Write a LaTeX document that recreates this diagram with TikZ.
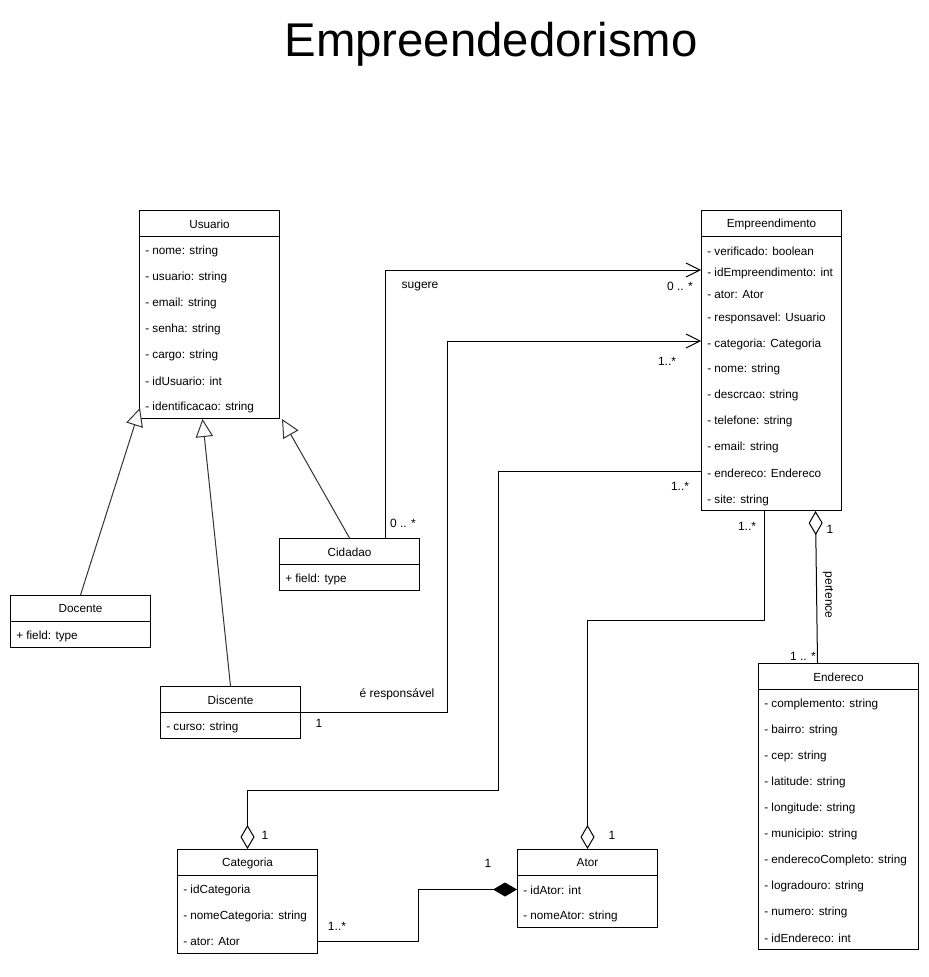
\documentclass[tikz,border=0pt]{standalone}
\usepackage{fontspec}
\setmainfont{Liberation Sans}
\usetikzlibrary{arrows.meta,calc}
\tikzset{
  classbox/.style={draw, line width=0.75pt, anchor=north west, inner sep=0pt},
  head/.style={inner sep=0pt, font=\fontsize{8.8}{11}\selectfont},
  attr/.style={anchor=west, inner sep=0pt, font=\fontsize{8.8}{11}\selectfont},
  lbl/.style={inner sep=0pt, font=\fontsize{9}{11}\selectfont},
  gen/.style={line width=0.75pt, draw=black!80, -{Triangle[open,length=13.5pt,width=13pt,fill=white]}},
  agg/.style={line width=0.75pt, -{Diamond[open,length=18pt,width=10.5pt,fill=white]}},
  comp/.style={line width=0.75pt, -{Diamond[length=18pt,width=10.5pt]}},
  assoc/.style={line width=0.75pt, -{Straight Barb[length=10.5pt,width=10.5pt]}}
}
\begin{document}
\begin{tikzpicture}[x=0.75pt,y=-0.75pt]
\useasboundingbox (0,0) rectangle (928,977);
\fill[white] (0,0) rectangle (928,977);
\node[anchor=base, inner sep=0pt, font=\fontsize{35.5}{42}\selectfont] (title) at (491,57) {Empreendedorismo};
% classes
\node[classbox, minimum width=140*0.75pt, minimum height=208*0.75pt] (usuario) at (139,210) {};
\node[head] (usuario-t) at ($(usuario.north)+(0,14)$) {Usuario};
\draw[line width=0.75pt] ($(usuario.north west)+(0,26)$) -- ($(usuario.north east)+(0,26)$);
\foreach \a [count=\i] in {- nome: string, - usuario: string, - email: string, - senha: string, - cargo: string, - idUsuario: int, - identificacao: string}
  \node[attr] (usuario-\i) at ($(usuario.north west)+(6,15+26*\i)$) {\a};
\node[classbox, minimum width=140*0.75pt, minimum height=300*0.75pt] (empreend) at (701,210) {};
\node[head] (empreend-t) at ($(empreend.north)+(0,14)$) {Empreendimento};
\draw[line width=0.75pt] ($(empreend.north west)+(0,26)$) -- ($(empreend.north east)+(0,26)$);
\foreach \a/\y [count=\i] in {- verificado: boolean/41, - idEmpreendimento: int/63, - ator: Ator/85, - responsavel: Usuario/108, - categoria: Categoria/134, - nome: string/159, - descrcao: string/185, - telefone: string/211, - email: string/237, - endereco: Endereco/263, - site: string/290}
  \node[attr] (empreend-\i) at ($(empreend.north west)+(6,\y)$) {\a};
\node[classbox, minimum width=140*0.75pt, minimum height=52*0.75pt] (cidadao) at (279,538) {};
\node[head] (cidadao-t) at ($(cidadao.north)+(0,14)$) {Cidadao};
\draw[line width=0.75pt] ($(cidadao.north west)+(0,26)$) -- ($(cidadao.north east)+(0,26)$);
\node[attr] (cidadao-1) at ($(cidadao.north west)+(6,41)$) {+ field: type};
\node[classbox, minimum width=140*0.75pt, minimum height=52*0.75pt] (docente) at (10,595) {};
\node[head] (docente-t) at ($(docente.north)+(0,14)$) {Docente};
\draw[line width=0.75pt] ($(docente.north west)+(0,26)$) -- ($(docente.north east)+(0,26)$);
\node[attr] (docente-1) at ($(docente.north west)+(6,41)$) {+ field: type};
\node[classbox, minimum width=140*0.75pt, minimum height=52*0.75pt] (discente) at (160,686) {};
\node[head] (discente-t) at ($(discente.north)+(0,14)$) {Discente};
\draw[line width=0.75pt] ($(discente.north west)+(0,26)$) -- ($(discente.north east)+(0,26)$);
\node[attr] (discente-1) at ($(discente.north west)+(6,41)$) {- curso: string};
\node[classbox, minimum width=140*0.75pt, minimum height=104*0.75pt] (categoria) at (177,849) {};
\node[head] (categoria-t) at ($(categoria.north)+(0,14)$) {Categoria};
\draw[line width=0.75pt] ($(categoria.north west)+(0,26)$) -- ($(categoria.north east)+(0,26)$);
\foreach \a [count=\i] in {- idCategoria, - nomeCategoria: string, - ator: Ator}
  \node[attr] (categoria-\i) at ($(categoria.north west)+(6,15+26*\i)$) {\a};
\node[classbox, minimum width=140*0.75pt, minimum height=78*0.75pt] (ator) at (517,849) {};
\node[head] (ator-t) at ($(ator.north)+(0,14)$) {Ator};
\draw[line width=0.75pt] ($(ator.north west)+(0,26)$) -- ($(ator.north east)+(0,26)$);
\foreach \a [count=\i] in {- idAtor: int, - nomeAtor: string}
  \node[attr] (ator-\i) at ($(ator.north west)+(6,15+26*\i)$) {\a};
\node[classbox, minimum width=160*0.75pt, minimum height=286*0.75pt] (endereco) at (758,663) {};
\node[head] (endereco-t) at ($(endereco.north)+(0,14)$) {Endereco};
\draw[line width=0.75pt] ($(endereco.north west)+(0,26)$) -- ($(endereco.north east)+(0,26)$);
\foreach \a [count=\i] in {- complemento: string, - bairro: string, - cep: string, - latitude: string, - longitude: string, - municipio: string, - enderecoCompleto: string, - logradouro: string, - numero: string, - idEndereco: int}
  \node[attr] (endereco-\i) at ($(endereco.north west)+(6,15+26*\i)$) {\a};
% generalizations
\draw[gen] (docente.north) -- ($(usuario.south west)+(1,-11)$);
\draw[gen] (discente.north) -- ($(usuario.south)+(-7,0)$);
\draw[gen] (cidadao.north) -- ($(usuario.south east)+(2,0)$);
% associations
\draw[assoc] ($(cidadao.north)+(36,0)$) |- ($(empreend.north west)+(0,60)$);
\node[lbl] (l-sugere) at (420,287) {sugere};
\node[lbl] (l-sug1) at (680,286) {0 .. *};
\node[lbl] (l-sug2) at (403,523) {0 .. *};
\draw[assoc] (discente.east) -| (447,341) -- ($(empreend.north west)+(0,131)$);
\node[lbl] (l-resp) at (397,694) {é responsável};
\node[lbl] (l-resp1) at (319,723) {1};
\node[lbl] (l-resp2) at (667,361) {1..*};
\draw[agg] ($(empreend.north west)+(0,261)$) -| (498,790) -| (categoria.north);
\node[lbl] (l-cat1) at (680,486) {1..*};
\node[lbl] (l-cat2) at (265,835) {1};
\draw[agg] ($(empreend.south)+(-7,0)$) |- ($(ator.north)+(0,-229)$) -- (ator.north);
\node[lbl] (l-ator1) at (747,526) {1..*};
\node[lbl] (l-ator2) at (612,835) {1};
\draw[agg] ($(endereco.north)+(-21,0)$) -- ($(empreend.south)+(44,0)$);
\node[lbl] (l-end1) at (830,529) {1};
\node[lbl, rotate=-90] (l-pert) at (828,595) {pertence};
\node[lbl] (l-end2) at (803,656) {1 .. *};
\draw[comp] ($(categoria.south east)+(0,-13)$) -| ($(ator.west)+(-99,1)$) -- ($(ator.west)+(0,1)$);
\node[lbl] (l-comp1) at (337,926) {1..*};
\node[lbl] (l-comp2) at (488,863) {1};
\end{tikzpicture}
\end{document}
